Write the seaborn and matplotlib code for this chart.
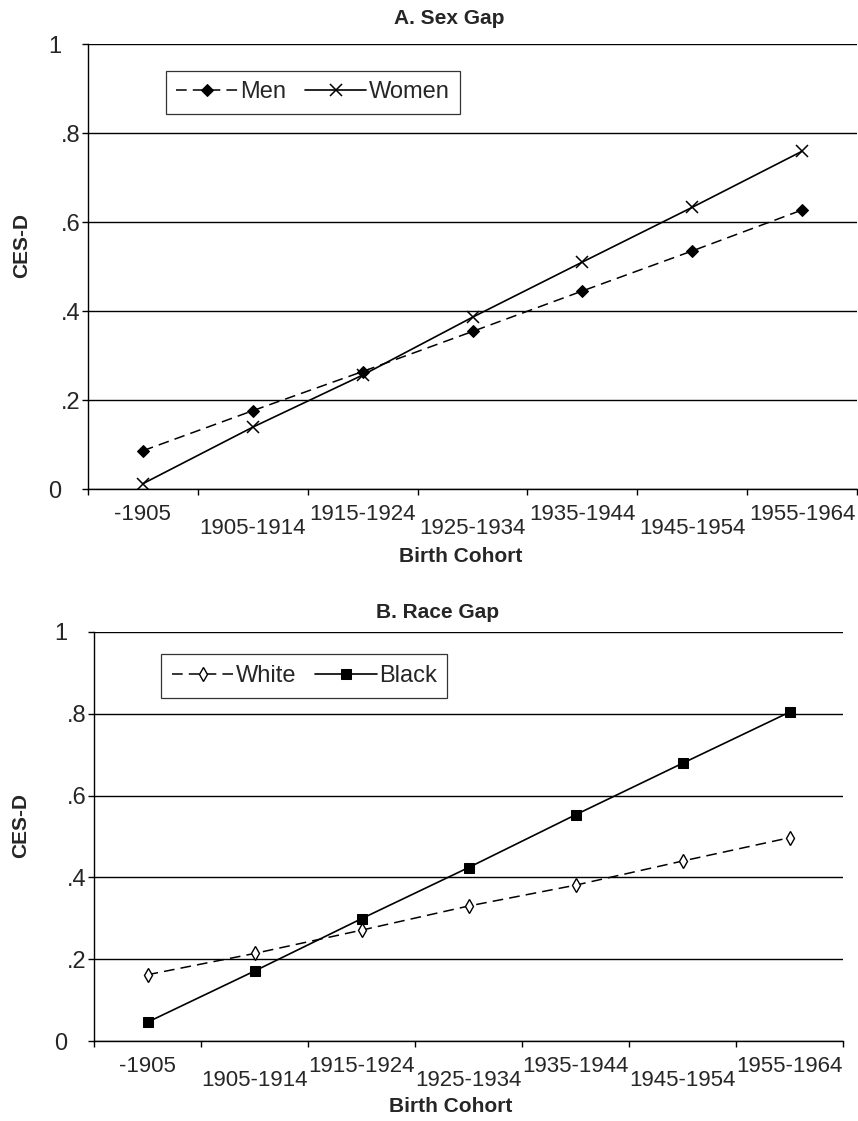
import numpy as np
import pandas as pd
import matplotlib
matplotlib.use("Agg")
import matplotlib.pyplot as plt
import matplotlib.transforms as mtrans
import seaborn as sns

# data
cohorts = ['-1905', '1905-1914', '1915-1924', '1925-1934', '1935-1944', '1945-1954', '1955-1964']
men = [0.086, 0.176, 0.264, 0.354, 0.445, 0.535, 0.627]
women = [0.012, 0.139, 0.256, 0.386, 0.510, 0.633, 0.759]
white = [0.162, 0.214, 0.271, 0.330, 0.381, 0.440, 0.497]
black = [0.046, 0.171, 0.299, 0.424, 0.553, 0.679, 0.804]
yticks = [0, 0.2, 0.4, 0.6, 0.8, 1.0]
ytick_labels = ['0', '.2', '.4', '.6', '.8', '1']

sns.set_style("white")
plt.rcParams['font.family'] = ['Liberation Sans', 'DejaVu Sans']

fig = plt.figure(figsize=(8.58, 11.21), dpi=100)
W, H = 858, 1121
fs = 16  # tick / legend text

def px_axes(l, t, r, b):
    return fig.add_axes([l / W, 1 - b / H, (r - l) / W, (b - t) / H])

axA = px_axes(88, 44, 857, 489)
axB = px_axes(94, 632, 843, 1041)

def draw_panel(ax, s1, s2, lab1, lab2, m1, m2, legpos):
    x = np.arange(len(cohorts))
    df = pd.DataFrame({'x': x, 'a': s1, 'b': s2})
    sns.lineplot(data=df, x='x', y='a', ax=ax, color='black', lw=1.1,
                 linestyle=(0, (7, 4)), label=lab1, **m1)
    sns.lineplot(data=df, x='x', y='b', ax=ax, color='black', lw=1.2,
                 linestyle='-', label=lab2, **m2)
    ax.set_xlim(-0.5, len(cohorts) - 0.5)
    ax.set_ylim(0, 1)
    ax.set_xlabel('')
    ax.set_ylabel('')

    # y axis
    ax.set_yticks(yticks)
    ax.set_yticklabels(ytick_labels)
    ax.yaxis.grid(True, color='black', lw=1.0)
    ax.set_axisbelow(True)
    ax.tick_params(axis='y', which='major', direction='out', length=4.5, width=1,
                   color='black', left=True, pad=1, labelsize=fs + 1)
    for lbl in ax.get_yticklabels():
        if lbl.get_text() in ('0', '1'):
            lbl.set_transform(lbl.get_transform() +
                              mtrans.ScaledTranslation(-14 / 72, 0, fig.dpi_scale_trans))

    # x axis: labels at centres, ticks at category boundaries
    ax.set_xticks(x)
    ax.set_xticklabels(cohorts)
    ax.set_xticks(np.arange(-0.5, len(cohorts)), minor=True)
    ax.tick_params(axis='x', which='major', length=0, pad=11, labelsize=fs)
    ax.tick_params(axis='x', which='minor', direction='out', length=4.5, width=1,
                   color='black', bottom=True)
    for i, lbl in enumerate(ax.get_xticklabels()):
        if i % 2 == 1:
            lbl.set_transform(lbl.get_transform() +
                              mtrans.ScaledTranslation(0, -10 / 72, fig.dpi_scale_trans))

    for side in ['top', 'right']:
        ax.spines[side].set_visible(False)
    for side in ['left', 'bottom']:
        ax.spines[side].set_color('black')
        ax.spines[side].set_linewidth(1.0)

    leg = ax.legend(loc='upper left', bbox_to_anchor=legpos, ncol=2, fontsize=fs + 1,
                    frameon=True, fancybox=False, handlelength=2.6, handletextpad=0.1,
                    columnspacing=0.8, borderpad=0.45, borderaxespad=0)
    leg.get_frame().set_edgecolor('black')
    leg.get_frame().set_linewidth(0.9)

draw_panel(axA, men, women, 'Men', 'Women',
           dict(marker='D', ms=6.5, mfc='black', mec='black'),
           dict(marker='x', ms=9, mew=1.1, mec='black'),
           (0.101, 0.94))
draw_panel(axB, white, black, 'White', 'Black',
           dict(marker='d', ms=7, mfc='white', mec='black', mew=1.0),
           dict(marker='s', ms=7, mfc='black', mec='black'),
           (0.09, 0.945))

tkw = dict(fontweight='bold', fontsize=15, ha='center', va='center')
fig.text(449 / W, 1 - 18 / H, 'A. Sex Gap', **tkw)
fig.text(438 / W, 1 - 613 / H, 'B. Race Gap', **tkw)
fig.text(461 / W, 1 - 557 / H, 'Birth Cohort', **tkw)
fig.text(451 / W, 1 - 1107 / H, 'Birth Cohort', **tkw)
fig.text(22 / W, 1 - 246 / H, 'CES-D', rotation=90, **tkw)
fig.text(21 / W, 1 - 826 / H, 'CES-D', rotation=90, **tkw)

fig.savefig('out.png', dpi=100, facecolor='white')
